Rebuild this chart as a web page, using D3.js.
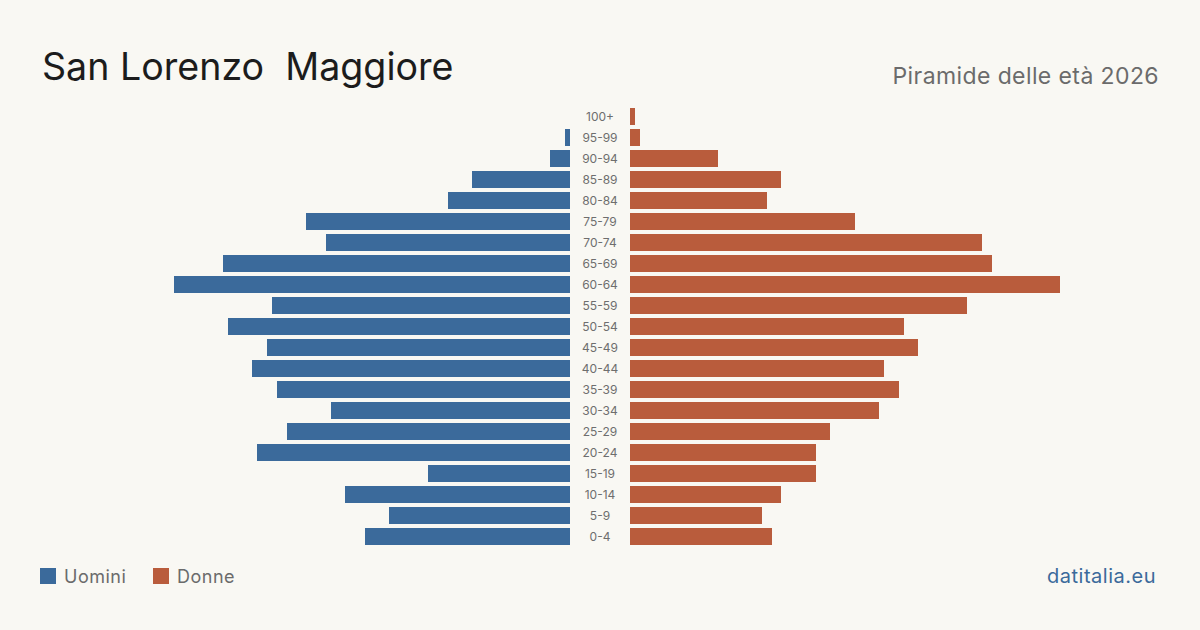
<!DOCTYPE html>
<html><head><meta charset="utf-8">
<script src="https://cdn.jsdelivr.net/npm/d3@7"></script>
<style>
html,body{margin:0;padding:0;background:#f9f8f3;}
svg{display:block;font-family:Inter,"Noto Sans",sans-serif;}
</style></head>
<body><svg id="c" width="1200" height="630"></svg>
<script>
const ageGroups = ["100+","95-99","90-94","85-89","80-84","75-79","70-74","65-69","60-64","55-59","50-54","45-49","40-44","35-39","30-34","25-29","20-24","15-19","10-14","5-9","0-4"];
const men   = [0,1,4,19.6,24.4,52.8,48.8,69.4,79.2,59.6,68.4,60.6,63.6,58.6,47.8,56.6,62.6,28.4,45,36.2,41];
const women = [1,2,17.6,30.2,27.4,45,70.4,72.4,86,67.4,54.8,57.6,50.8,53.8,49.8,40,37.2,37.2,30.2,26.4,28.4];
const seriesNames = ["Uomini","Donne"];
const colors = ["#3b6a9b","#b95c3c"];

const svg = d3.select("#c");
svg.append("rect").attr("width",1200).attr("height",630).attr("fill","#f9f8f3");

const y = d3.scaleBand().domain(ageGroups).range([108,545]).paddingInner(4/21).paddingOuter(0);
const maxV = d3.max(men.concat(women));
const xL = d3.scaleLinear().domain([0,maxV]).range([570,140]);
const xR = d3.scaleLinear().domain([0,maxV]).range([630,1060]);

svg.append("g").selectAll("rect").data(ageGroups).join("rect")
  .attr("x",(d,i)=>xL(men[i])).attr("y",d=>y(d))
  .attr("width",(d,i)=>xL(0)-xL(men[i])).attr("height",y.bandwidth())
  .attr("fill",colors[0]);
svg.append("g").selectAll("rect").data(ageGroups).join("rect")
  .attr("x",xR(0)).attr("y",d=>y(d))
  .attr("width",(d,i)=>xR(women[i])-xR(0)).attr("height",y.bandwidth())
  .attr("fill",colors[1]);

svg.append("g").selectAll("text").data(ageGroups).join("text")
  .attr("x",600).attr("y",d=>y(d)+y.bandwidth()/2).attr("dy","0.35em")
  .attr("text-anchor","middle").attr("font-size",12).attr("fill","#6e6e6e")
  .text(d=>d);

svg.append("text").attr("x",42).attr("y",80).attr("font-size",37.6).attr("fill","#1c1c1c")
  .style("white-space","pre").text("San Lorenzo  Maggiore");
svg.append("text").attr("x",1159).attr("y",84).attr("text-anchor","end").attr("font-size",23)
  .attr("letter-spacing",0.4).attr("fill","#6b6b6b").text("Piramide delle età 2026");

const leg = svg.append("g");
const legX = [40,153];
seriesNames.forEach((n,i)=>{
  leg.append("rect").attr("x",legX[i]).attr("y",568).attr("width",16).attr("height",16).attr("fill",colors[i]);
  leg.append("text").attr("x",legX[i]+24).attr("y",583).attr("font-size",18).attr("letter-spacing",0.5)
    .attr("fill","#6b6b6b").text(n);
});
svg.append("text").attr("x",1156).attr("y",583).attr("text-anchor","end").attr("font-size",20)
  .attr("letter-spacing",0.5).attr("fill","#3b6a9b").text("datitalia.eu");
</script></body></html>
